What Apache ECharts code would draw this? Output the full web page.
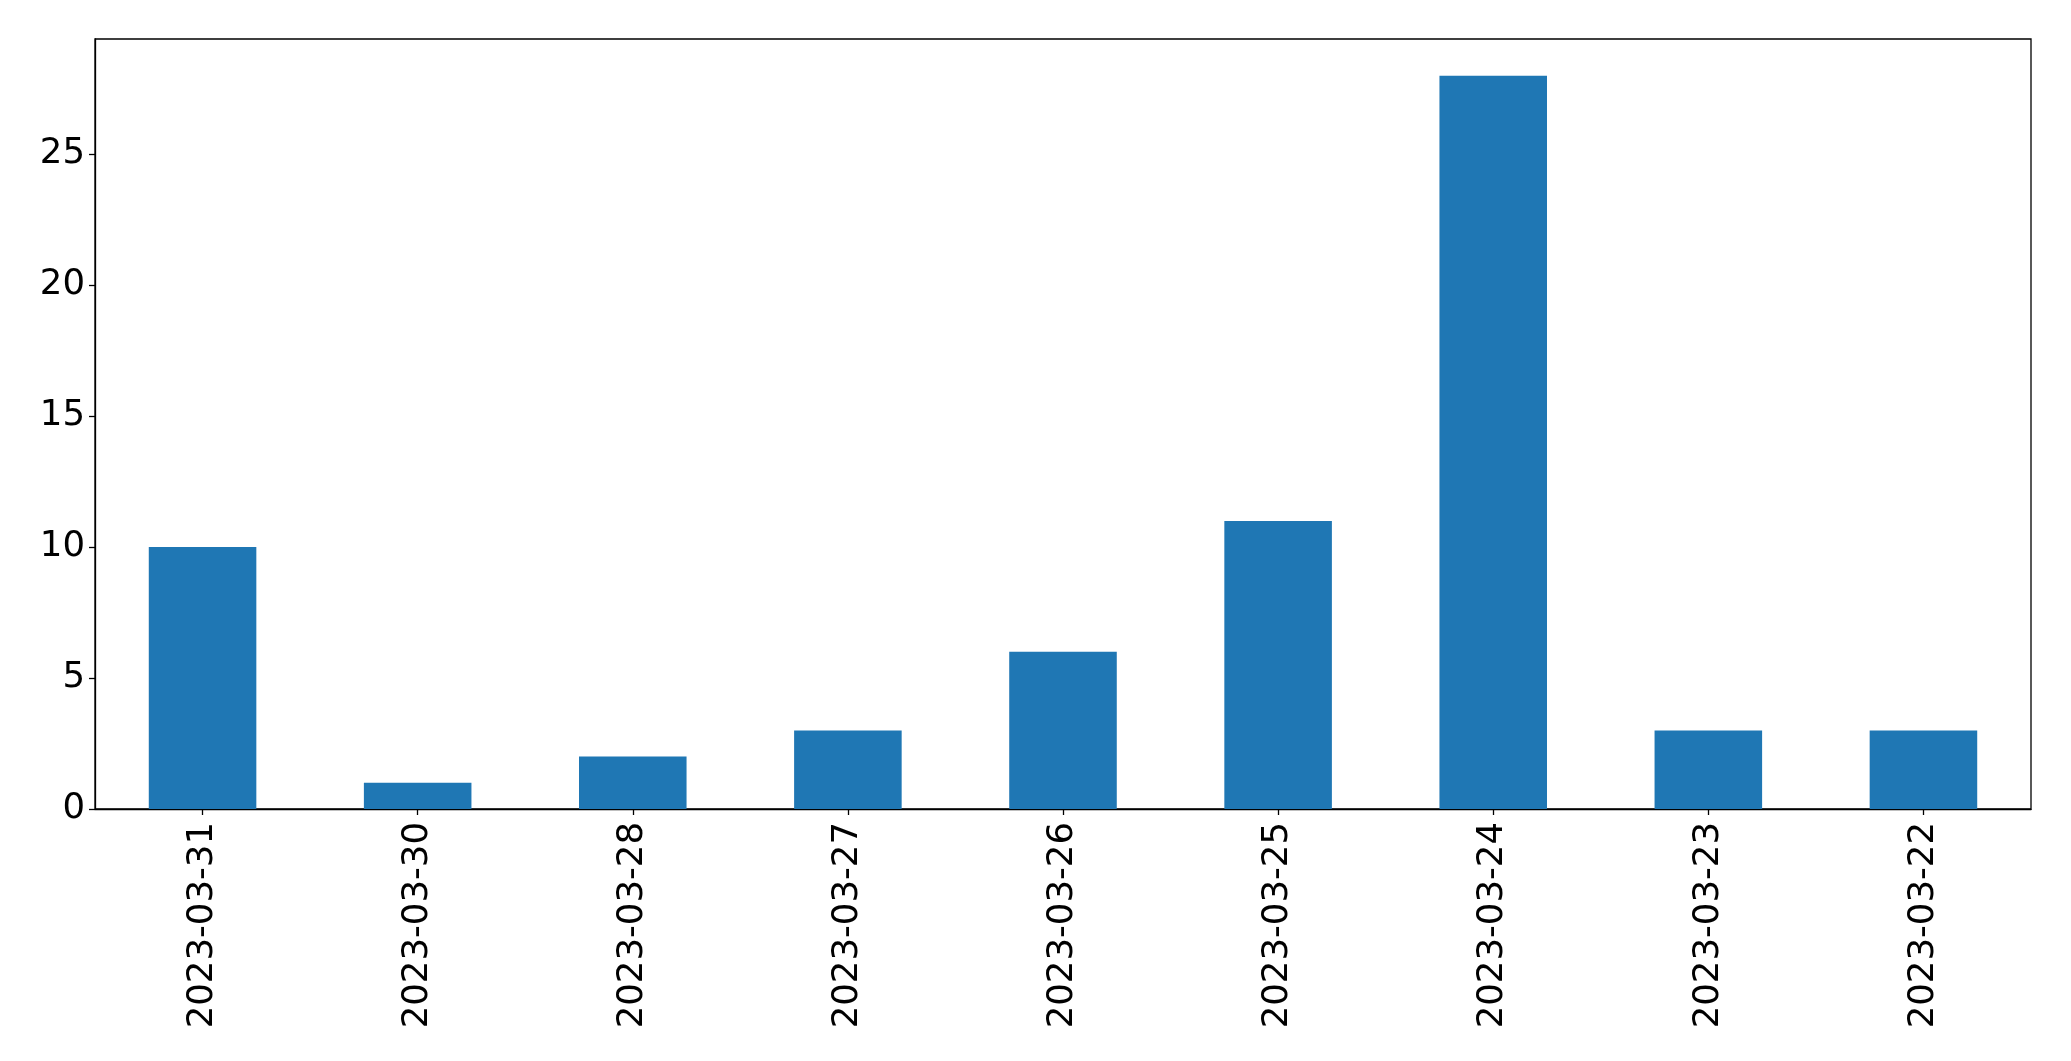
<!DOCTYPE html>
<html>
<head>
<meta charset="utf-8">
<script src="https://cdn.jsdelivr.net/npm/echarts@6/dist/echarts.min.js"></script>
<style>html,body{margin:0;padding:0;background:#fff;}#chart{width:2071px;height:1061px;}</style>
</head>
<body>
<div id="chart"></div>
<script>
const categories = ["2023-03-31","2023-03-30","2023-03-28","2023-03-27","2023-03-26","2023-03-25","2023-03-24","2023-03-23","2023-03-22"];
const values = [10, 1, 2, 3, 6, 11, 28, 3, 3];
const yTicks = [0, 5, 10, 15, 20, 25];
const yMax = 29.4;

const chart = echarts.init(document.getElementById('chart'), null, {renderer: 'canvas'});
const font = 'DejaVu Sans';
chart.setOption({
  animation: false,
  grid: {left: 95, right: 40, top: 39, bottom: 252, show: true, borderColor: '#000', borderWidth: 1.3, backgroundColor: 'transparent'},
  xAxis: {
    type: 'category',
    data: categories,
    axisLine: {show: true, lineStyle: {color: '#000', width: 1.3}},
    axisTick: {show: true, alignWithLabel: true, length: 6, lineStyle: {color: '#000', width: 1.3}},
    axisLabel: {rotate: 90, margin: 13, color: '#000', fontFamily: font, fontSize: 35.5, interval: 0},
    splitLine: {show: false}
  },
  yAxis: {
    type: 'value',
    min: 0, max: yMax, interval: 5,
    axisLine: {show: true, lineStyle: {color: '#000', width: 1.3}},
    axisTick: {show: true, length: 6, lineStyle: {color: '#000', width: 1.3}, customValues: yTicks},
    axisLabel: {margin: 10, color: '#000', fontFamily: font, fontSize: 35.5, customValues: yTicks},
    splitLine: {show: false}
  },
  series: [{
    type: 'bar',
    data: values,
    barWidth: '50%',
    itemStyle: {color: '#1f77b4'}
  }]
});
</script>
</body>
</html>
